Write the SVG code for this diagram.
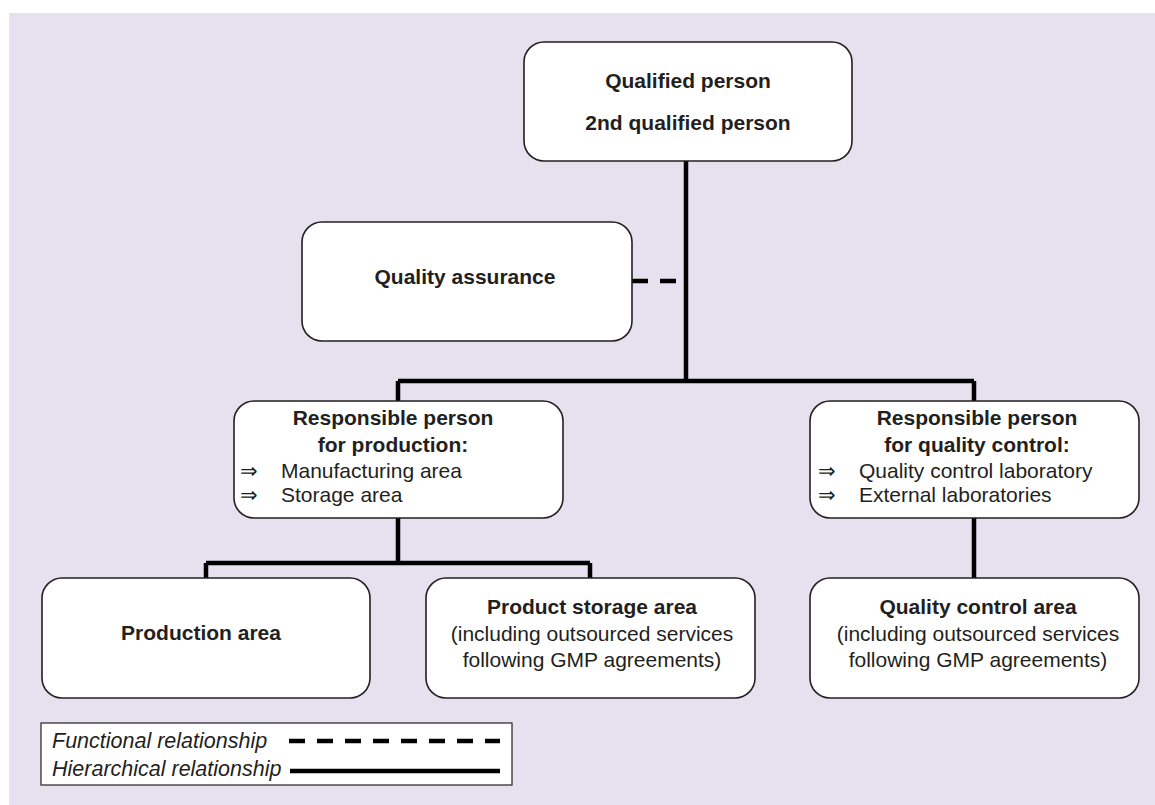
<svg xmlns="http://www.w3.org/2000/svg" width="1155" height="805" viewBox="0 0 1155 805">
<style>
.box{fill:#fff;stroke:#231f20;stroke-width:1.6}
.t{font-family:"Liberation Sans",Arial,sans-serif;font-size:21px;fill:#231f20}
.b{font-weight:bold}
.c{text-anchor:middle}
.i{font-style:italic;font-size:21.5px}
.h{fill:none;stroke:#000;stroke-width:4.5}
.f{fill:none;stroke:#000;stroke-width:4.5;stroke-dasharray:16 12}
</style>
<rect x="0" y="0" width="1155" height="805" fill="#fff"/>
<rect x="9" y="13" width="1146" height="792" fill="#e6e1ef"/>
<g id="connectors">
<path class="h" d="M686 161V381M398 381H974M398 381V401M398 518V563M206 563H590M206 563V578M590 563V578M974 381V401M974 518V578"/>
<path class="f" d="M632 281H686"/>
</g>
<g id="qualified-person">
<rect class="box" x="524" y="42" width="328" height="119" rx="20"/>
<text class="t b c" x="688" y="88">Qualified person</text>
<text class="t b c" x="688" y="130">2nd qualified person</text>
</g>
<g id="quality-assurance">
<rect class="box" x="302" y="222" width="330" height="119" rx="20"/>
<text class="t b c" x="465" y="284">Quality assurance</text>
</g>
<g id="rp-production">
<rect class="box" x="234" y="401" width="329" height="117" rx="20"/>
<text class="t b c" x="393" y="425">Responsible person</text>
<text class="t b c" x="393" y="452">for production:</text>
<text class="t" x="240" y="478">⇒</text>
<text class="t" x="281" y="478">Manufacturing area</text>
<text class="t" x="240" y="502">⇒</text>
<text class="t" x="281" y="502">Storage area</text>
</g>
<g id="rp-quality-control">
<rect class="box" x="810" y="401" width="329" height="117" rx="20"/>
<text class="t b c" x="977" y="425">Responsible person</text>
<text class="t b c" x="977" y="452">for quality control:</text>
<text class="t" x="818" y="478">⇒</text>
<text class="t" x="859" y="478">Quality control laboratory</text>
<text class="t" x="818" y="502">⇒</text>
<text class="t" x="859" y="502">External laboratories</text>
</g>
<g id="production-area">
<rect class="box" x="42" y="578" width="328" height="120" rx="20"/>
<text class="t b c" x="201" y="640">Production area</text>
</g>
<g id="product-storage-area">
<rect class="box" x="426" y="578" width="329" height="120" rx="20"/>
<text class="t b c" x="592" y="614">Product storage area</text>
<text class="t c" x="592" y="641">(including outsourced services</text>
<text class="t c" x="592" y="667">following GMP agreements)</text>
</g>
<g id="quality-control-area">
<rect class="box" x="810" y="578" width="329" height="120" rx="20"/>
<text class="t b c" x="978" y="614">Quality control area</text>
<text class="t c" x="978" y="641">(including outsourced services</text>
<text class="t c" x="978" y="667">following GMP agreements)</text>
</g>
<g id="legend">
<rect x="41" y="723" width="471" height="62" fill="#fff" stroke="#231f20" stroke-width="1.2"/>
<text class="t i" x="52" y="748">Functional relationship</text>
<text class="t i" x="52" y="776">Hierarchical relationship</text>
<path class="f" d="M289 741H500"/>
<path class="h" d="M290 771H500"/>
</g>
</svg>
